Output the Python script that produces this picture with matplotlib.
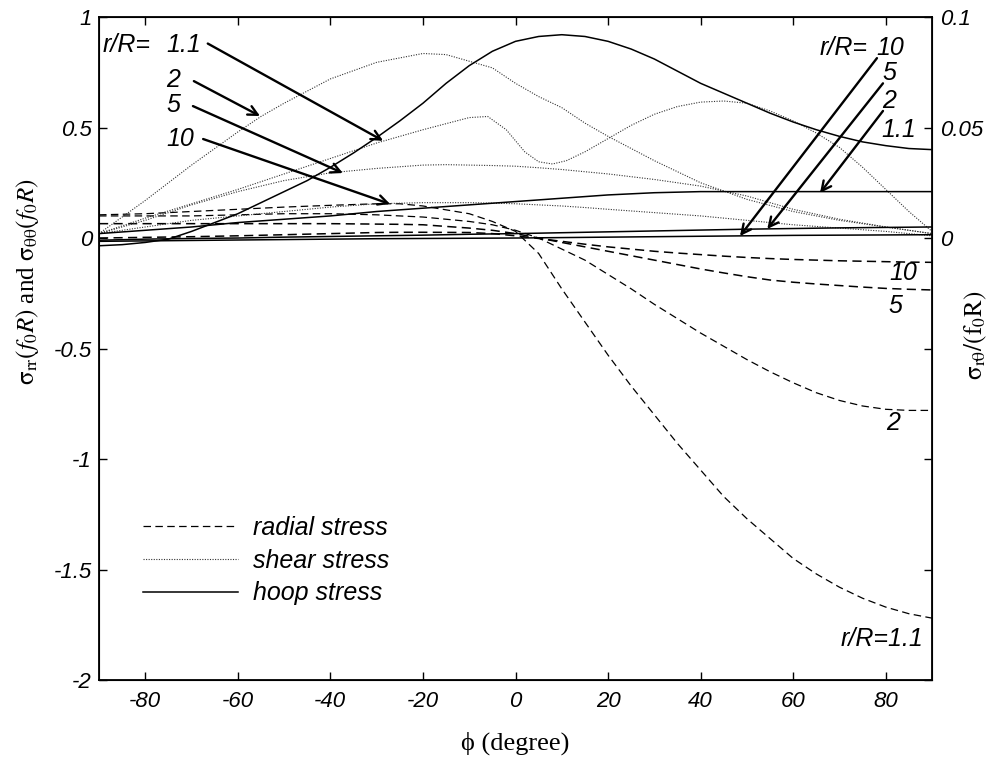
import matplotlib
matplotlib.use("Agg")
import matplotlib.pyplot as plt
from matplotlib.lines import Line2D

plt.rcParams['mathtext.fontset'] = 'stix'

# ---------------- data ----------------
phi = [-90, -80, -70, -60, -50, -40, -30, -20, -10, 0, 10, 20, 30, 40, 50, 60, 70, 80, 90]
phi_h = [-90, -85, -80, -75, -70, -65, -60, -55, -50, -45, -40, -35, -30, -25, -20, -15, -10, -5, 0,
         5, 10, 15, 20, 25, 30, 35, 40, 45, 50, 55, 60, 65, 70, 75, 80, 85, 90]

# hoop stress (solid)
hoop_11 = [-0.035, -0.03, -0.02, -0.005, 0.03, 0.07, 0.11, 0.16, 0.21, 0.26, 0.32, 0.385, 0.455, 0.53, 0.61,
           0.70, 0.78, 0.845, 0.89, 0.912, 0.92, 0.912, 0.89, 0.855, 0.81, 0.755, 0.70, 0.655, 0.61, 0.565,
           0.525, 0.49, 0.46, 0.435, 0.418, 0.405, 0.40]
hoop_2 = [0.02, 0.035, 0.05, 0.07, 0.085, 0.10, 0.12, 0.135, 0.15, 0.165, 0.18, 0.195, 0.205, 0.21, 0.21, 0.21, 0.21, 0.21, 0.21]
hoop_5 = [-0.01, -0.005, -0.002, 0.0, 0.004, 0.007, 0.01, 0.013, 0.017, 0.02, 0.024, 0.028, 0.032, 0.036, 0.04, 0.043, 0.046, 0.048, 0.05]
hoop_10 = [-0.015, -0.013, -0.011, -0.009, -0.007, -0.005, -0.003, -0.002, -0.001, 0.0, 0.002, 0.004, 0.006, 0.008, 0.01, 0.012, 0.013, 0.014, 0.015]

# shear stress (dotted)
phi_s11 = [-90, -80, -70, -60, -50, -40, -30, -20, -10, -6, -2, 2, 5, 8, 11, 15, 20, 25, 30, 35, 40, 45, 50, 55, 60, 65, 70, 75, 80, 85, 90]
shear_11 = [0.02, 0.09, 0.155, 0.22, 0.29, 0.36, 0.43, 0.49, 0.545, 0.55, 0.49, 0.39, 0.345, 0.335, 0.35, 0.39, 0.45, 0.51, 0.56, 0.595, 0.615, 0.62, 0.61, 0.575, 0.53, 0.475, 0.41, 0.32, 0.22, 0.12, 0.03]
phi_s = [-90, -80, -70, -60, -55, -50, -40, -30, -20, -15, -10, -5, 0, 5, 10, 15, 20, 30, 40, 50, 60, 70, 80, 90]
shear_2 = [0.02, 0.17, 0.33, 0.48, 0.55, 0.61, 0.72, 0.795, 0.835, 0.83, 0.80, 0.77, 0.70, 0.64, 0.59, 0.52, 0.46, 0.35, 0.25, 0.175, 0.12, 0.08, 0.05, 0.02]
shear_5 = [0.02, 0.08, 0.15, 0.21, 0.235, 0.26, 0.295, 0.315, 0.33, 0.332, 0.33, 0.328, 0.325, 0.318, 0.31, 0.30, 0.29, 0.265, 0.235, 0.19, 0.13, 0.085, 0.05, 0.02]
shear_10 = [0.02, 0.05, 0.08, 0.10, 0.11, 0.12, 0.14, 0.155, 0.16, 0.16, 0.16, 0.158, 0.155, 0.15, 0.145, 0.138, 0.13, 0.115, 0.10, 0.08, 0.06, 0.045, 0.03, 0.01]

# radial stress (dashed)
phi_r = [-90, -80, -70, -60, -50, -40, -30, -25, -20, -10, -5, 0, 5, 10, 15, 20, 25, 30, 35, 40, 45, 50, 55, 60, 65, 70, 75, 80, 85, 90]
radial_11 = [0.105, 0.11, 0.12, 0.13, 0.14, 0.148, 0.155, 0.155, 0.145, 0.11, 0.075, 0.03, -0.07, -0.23, -0.38, -0.53, -0.67, -0.80, -0.93, -1.05, -1.17, -1.27, -1.36, -1.45, -1.52, -1.58, -1.63, -1.67, -1.70, -1.72]
radial_2 = [0.10, 0.10, 0.10, 0.105, 0.11, 0.11, 0.105, 0.10, 0.095, 0.075, 0.06, 0.035, 0.0, -0.05, -0.10, -0.165, -0.23, -0.30, -0.365, -0.43, -0.49, -0.55, -0.605, -0.655, -0.70, -0.735, -0.76, -0.775, -0.78, -0.78]
radial_5 = [0.065, 0.065, 0.065, 0.065, 0.065, 0.065, 0.063, 0.062, 0.06, 0.045, 0.035, 0.02, 0.0, -0.02, -0.04, -0.06, -0.08, -0.10, -0.12, -0.14, -0.158, -0.175, -0.19, -0.20, -0.208, -0.215, -0.222, -0.228, -0.232, -0.235]
radial_10 = [0.0, 0.003, 0.006, 0.01, 0.015, 0.02, 0.025, 0.026, 0.026, 0.025, 0.02, 0.01, -0.002, -0.015, -0.028, -0.04, -0.05, -0.06, -0.068, -0.075, -0.082, -0.088, -0.093, -0.097, -0.1, -0.103, -0.105, -0.107, -0.109, -0.11]

left_ticks = [-2, -1.5, -1, -0.5, 0, 0.5, 1]
left_labels = ['-2', '-1.5', '-1', '-0.5', '0', '0.5', '1']
right_ticks = [-0.2, -0.15, -0.1, -0.05, 0, 0.05, 0.1]
right_labels = ['', '', '', '', '0', '0.05', '0.1']
x_ticks = [-80, -60, -40, -20, 0, 20, 40, 60, 80]

# ---------------- styling ----------------
sans_it = dict(family='Liberation Sans', style='italic')
serif = ['Liberation Serif', 'DejaVu Serif']

fig = plt.figure(figsize=(9.93, 7.67), dpi=100)
ax = fig.add_axes([0.0997, 0.1134, 0.8389, 0.8644])

dash = (0, (6, 3.5))
dot = (0, (1, 1.3))
ax.plot(phi_r, radial_11, color='black', lw=0.9, ls=dash)
ax.plot(phi_r, radial_2, color='black', lw=0.9, ls=dash)
ax.plot(phi_r, radial_5, color='black', lw=1.1, ls=dash)
ax.plot(phi_r, radial_10, color='black', lw=1.1, ls=dash)

ax.plot(phi_s11, shear_11, color='#333333', lw=0.8, ls=dot)
ax.plot(phi_s, shear_2, color='#333333', lw=0.8, ls=dot)
ax.plot(phi_s, shear_5, color='#333333', lw=0.8, ls=dot)
ax.plot(phi_s, shear_10, color='#333333', lw=0.8, ls=dot)

ax.plot(phi_h, hoop_11, color='black', lw=1.1)
ax.plot(phi, hoop_2, color='black', lw=1.1)
ax.plot(phi, hoop_5, color='black', lw=1.1)
ax.plot(phi, hoop_10, color='black', lw=1.1)

ax.set_xlim(-90, 90)
ax.set_ylim(-2, 1)
ax.set_xticks(x_ticks)
ax.set_xticklabels([str(t) for t in x_ticks], fontsize=16, **sans_it)
ax.set_yticks(left_ticks)
ax.set_yticklabels(left_labels, fontsize=16, **sans_it)
ax.tick_params(axis='x', direction='in', top=True, length=6, width=1, pad=8)
ax.tick_params(axis='y', direction='in', right=False, length=6, width=1, pad=5)
for s in ax.spines.values():
    s.set_linewidth(1.3)

ax2 = ax.twinx()
ax2.set_ylim(-0.2, 0.1)
ax2.set_yticks(right_ticks)
ax2.set_yticklabels(right_labels, fontsize=16, **sans_it)
ax2.tick_params(direction='in', length=6, width=1, pad=6)

ax.set_xlabel('\u03d5 (degree)', fontsize=19, family=serif)
ax.xaxis.set_label_coords(0.5, -0.078)
ax.set_ylabel(r'$\mathrm{\sigma_{rr}}(f_0R)$ and $\mathrm{\sigma_{\theta\theta}}(f_0R)$', fontsize=18, family=serif)
ax.yaxis.set_label_coords(-0.07, 0.6)
ax2.set_ylabel(r'$\mathrm{\sigma_{r\theta}/(f_0R)}$', fontsize=18, family=serif, rotation=90)
ax2.yaxis.set_label_coords(1.037, 0.52)

# ---------------- annotations ----------------
fs = 18
arr = dict(arrowstyle='->', lw=1.7, color='black', mutation_scale=17, shrinkA=0, shrinkB=0)
ax.text(-89.2, 0.875, 'r/R=', fontsize=fs, va='center', ha='left', **sans_it)
ax.text(-75.4, 0.875, '1.1', fontsize=fs, va='center', ha='left', **sans_it)
ax.text(-75.4, 0.715, '2', fontsize=fs, va='center', ha='left', **sans_it)
ax.text(-75.4, 0.60, '5', fontsize=fs, va='center', ha='left', **sans_it)
ax.text(-75.4, 0.45, '10', fontsize=fs, va='center', ha='left', **sans_it)
ax.annotate('', xy=(-28.6, 0.44), xytext=(-66.5, 0.88), arrowprops=arr)
ax.annotate('', xy=(-55.2, 0.552), xytext=(-69.5, 0.71), arrowprops=arr)
ax.annotate('', xy=(-37.3, 0.294), xytext=(-69.7, 0.597), arrowprops=arr)
ax.annotate('', xy=(-27.1, 0.154), xytext=(-67.5, 0.448), arrowprops=arr)

ax.text(76.0, 0.86, 'r/R=', fontsize=fs, va='center', ha='right', **sans_it)
ax.text(78.0, 0.86, '10', fontsize=fs, va='center', ha='left', **sans_it)
ax.text(79.3, 0.745, '5', fontsize=fs, va='center', ha='left', **sans_it)
ax.text(79.3, 0.62, '2', fontsize=fs, va='center', ha='left', **sans_it)
ax.text(79.0, 0.49, '1.1', fontsize=fs, va='center', ha='left', **sans_it)
ax.annotate('', xy=(48.5, 0.009), xytext=(78.1, 0.814), arrowprops=arr)
ax.annotate('', xy=(54.4, 0.041), xytext=(79.4, 0.70), arrowprops=arr)
ax.annotate('', xy=(65.8, 0.204), xytext=(79.4, 0.575), arrowprops=arr)

ax.text(83.7, -0.158, '10', fontsize=fs, va='center', ha='center', **sans_it)
ax.text(82.0, -0.308, '5', fontsize=fs, va='center', ha='center', **sans_it)
ax.text(81.6, -0.837, '2', fontsize=fs, va='center', ha='center', **sans_it)
ax.text(88.1, -1.814, 'r/R=1.1', fontsize=fs, va='center', ha='right', **sans_it)

# ---------------- legend ----------------
handles = [Line2D([], [], color='black', lw=0.9, ls=dash),
           Line2D([], [], color='#333333', lw=0.8, ls=dot),
           Line2D([], [], color='black', lw=1.1)]
leg = ax.legend(handles, ['radial stress', 'shear stress', 'hoop stress'],
                loc='upper left', bbox_to_anchor=(0.053, 0.2475), frameon=False,
                handlelength=3.8, handletextpad=0.6, labelspacing=0.35,
                borderpad=0, borderaxespad=0,
                prop=dict(family='Liberation Sans', style='italic', size=18))

fig.savefig('out.png', dpi=100)
